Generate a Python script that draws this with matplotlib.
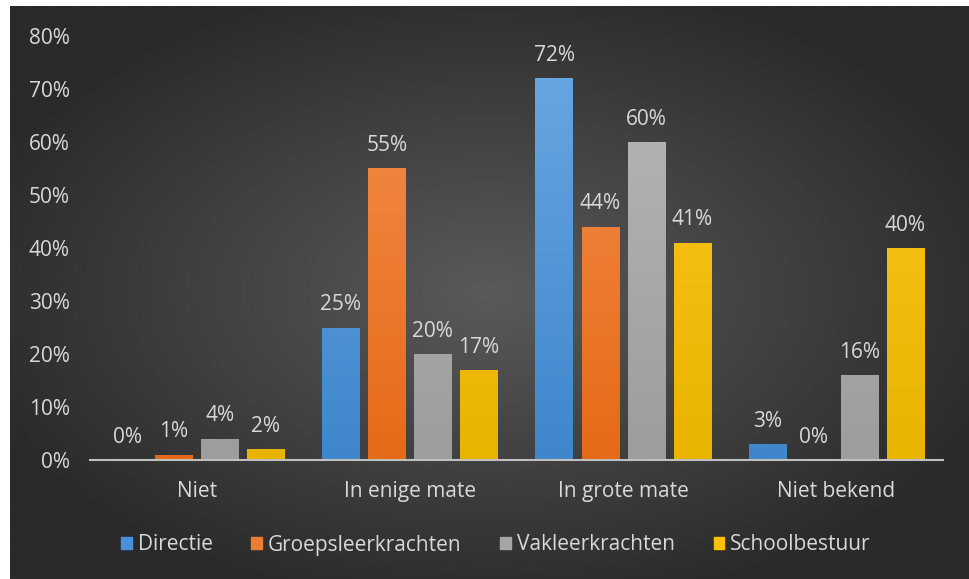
import numpy as np
import matplotlib
matplotlib.use("Agg")
import matplotlib.pyplot as plt
from matplotlib.colors import LinearSegmentedColormap, to_rgb

categories = ["Niet", "In enige mate", "In grote mate", "Niet bekend"]
series = ["Directie", "Groepsleerkrachten", "Vakleerkrachten", "Schoolbestuur"]
directie = [0, 25, 72, 3]
groeps = [1, 55, 44, 0]
vak = [4, 20, 60, 16]
bestuur = [2, 17, 41, 40]
values = [directie, groeps, vak, bestuur]
yticks = [0, 10, 20, 30, 40, 50, 60, 70, 80]

top_cols = ["#6aa9e3", "#f5904f", "#b8b8b8", "#ffc724"]
bot_cols = ["#3f86cc", "#e56a17", "#9d9d9d", "#e8b400"]

plt.rcParams['font.family'] = ['Open Sans', 'DejaVu Sans']
W, H = 970, 579
fig = plt.figure(figsize=(W/100, H/100), dpi=100)
fig.patch.set_facecolor("white")

# background with radial gradient
bx0, by0 = 10/W, 0
bw, bh = 1 - bx0, (H-6)/H
bg = fig.add_axes([bx0, by0, bw, bh])
bg.set_axis_off()
yy, xx = np.mgrid[-1:1:300j, -1:1:500j]
r = np.sqrt(xx**2 + yy**2) / np.sqrt(2)
c_in = np.array(to_rgb("#5a5a5a"))
c_out = np.array(to_rgb("#2a2a2a"))
t = np.clip(r*1.25, 0, 1)[..., None]
img = c_in*(1-t) + c_out*t
bg.imshow(img, extent=[0, 1, 0, 1], aspect='auto', interpolation='bicubic')
bg.set_xlim(0, 1); bg.set_ylim(0, 1)

# main axes: x 90..943, y 460 (0%) .. 36 (80%)
ax_l, ax_r = 90, 943
ax_b, ax_t = 460, 36
ax = fig.add_axes([ax_l/W, 1 - ax_b/H, (ax_r-ax_l)/W, (ax_b-ax_t)/H])
ax.patch.set_alpha(0)
ax.set_xlim(-0.5, len(categories)-0.5)
ax.set_ylim(0, 80)

FS = 15
TXT = '#d9d9d9'
step = 0.216
bw_ = 0.174
x = np.arange(len(categories))
grad = np.linspace(0, 1, 256)[:, None]
for i, (vals, name) in enumerate(zip(values, series)):
    pos = x + (i - 1.5)*step
    cmap = LinearSegmentedColormap.from_list("c%d" % i, [bot_cols[i], top_cols[i]])
    bars = ax.bar(pos, vals, width=bw_, color=bot_cols[i], label=name, zorder=3)
    for b, v in zip(bars, vals):
        if v > 0:
            im = ax.imshow(grad, cmap=cmap, origin='lower', aspect='auto',
                           extent=[b.get_x(), b.get_x()+b.get_width(), 0, 80], zorder=3.5)
            im.set_clip_path(b)
        ax.annotate(f"{v}%", (b.get_x()+b.get_width()/2, v), xytext=(0, 12.5),
                    textcoords='offset points', ha='center', va='baseline',
                    color=TXT, fontsize=FS, zorder=5)

ax.set_xlim(-0.5, len(categories)-0.5)
ax.set_ylim(0, 80)
ax.set_yticks(yticks)
ax.set_yticklabels([f"{v}%" for v in yticks])
ax.set_xticks(x)
ax.set_xticklabels(categories)
ax.tick_params(axis='both', length=0, colors=TXT, labelsize=FS)
ax.tick_params(axis='y', pad=14.5)
ax.tick_params(axis='x', pad=15)
for s in ['top', 'right', 'left']:
    ax.spines[s].set_visible(False)
ax.spines['bottom'].set_color('#bfbfbf')
ax.spines['bottom'].set_linewidth(1.5)
ax.spines['bottom'].set_zorder(6)

handles = [plt.Rectangle((0, 0), 1, 1, color=c) for c in ["#4a90d9", "#ed7d31", "#a5a5a5", "#ffc000"]]
leg = fig.legend(handles, series, loc='center', bbox_to_anchor=(496/W, 1 - 545/H), ncol=4,
                 frameon=False, fontsize=FS, handlelength=0.5, handleheight=0.5,
                 handletextpad=0.3, columnspacing=1.85, labelcolor=TXT)

fig.savefig("out.png", dpi=100, facecolor=fig.get_facecolor())
